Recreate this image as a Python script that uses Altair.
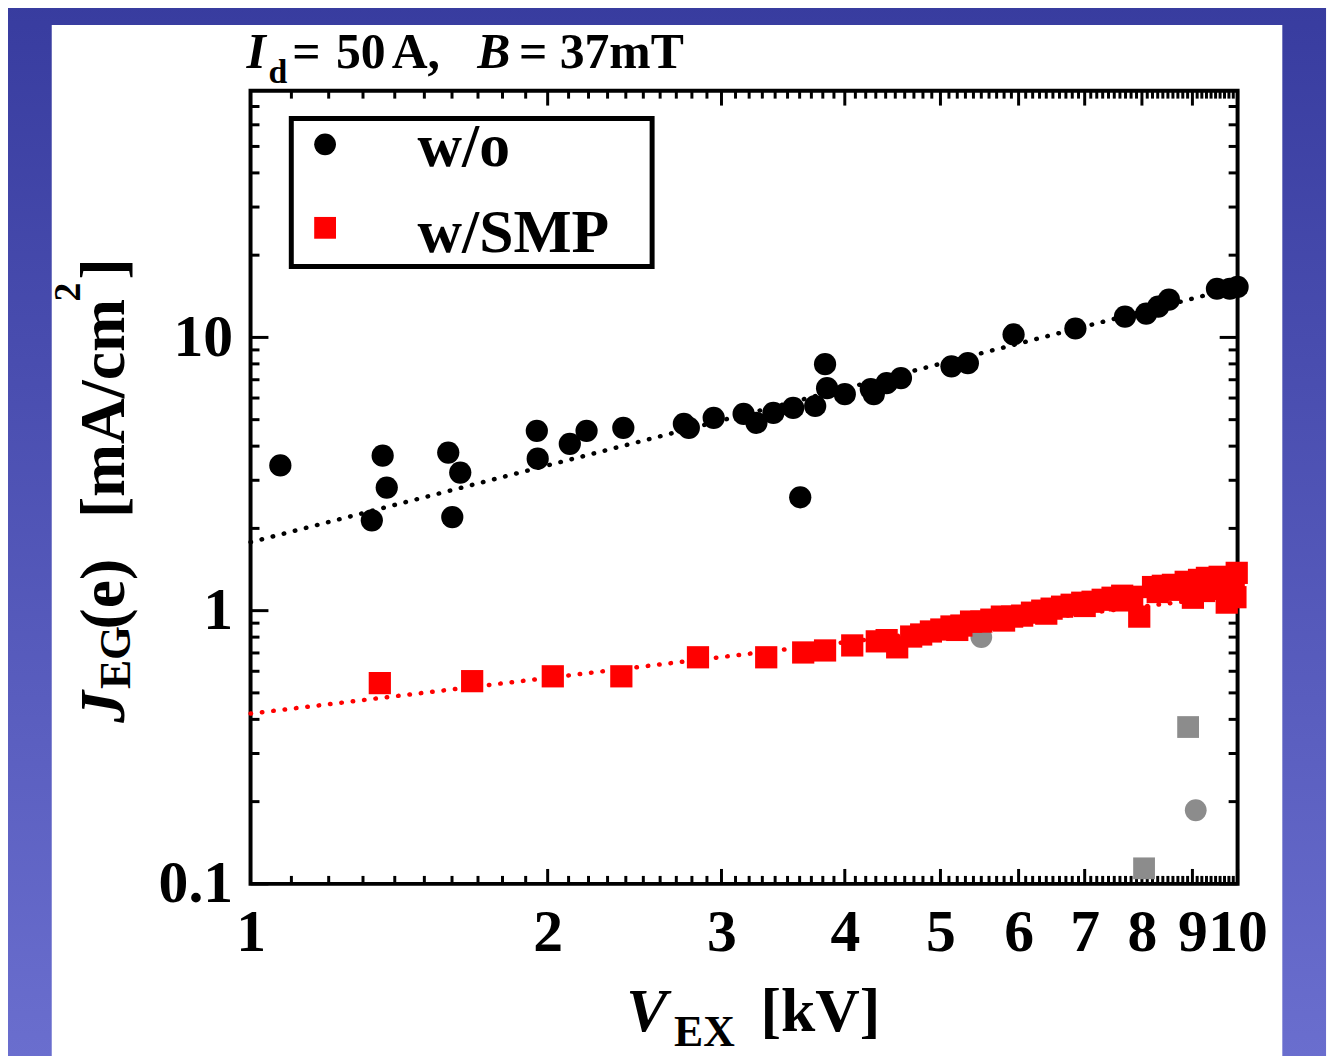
import altair as alt
import pandas as pd

# ---------------- data ----------------
wo_v = [1.072, 1.327, 1.361, 1.374, 1.586, 1.601, 1.631, 1.950, 1.954, 2.106,
        2.190, 2.386, 2.748, 2.780, 2.946, 3.159, 3.255, 3.386, 3.546, 3.605,
        3.733, 3.820, 3.838, 4.00, 4.25, 4.28, 4.41, 4.56, 5.13, 5.33,
        5.93, 6.85, 7.69, 8.08, 8.31, 8.52, 9.53, 9.82, 10.0]
wo_j = [3.40, 2.14, 3.69, 2.82, 3.79, 2.20, 3.20, 4.55, 3.60, 4.08,
        4.55, 4.67, 4.83, 4.67, 5.08, 5.25, 4.87, 5.29, 5.52, 2.60,
        5.61, 7.98, 6.52, 6.20, 6.47, 6.20, 6.80, 7.10, 7.84, 8.05,
        10.25, 10.78, 11.92, 12.23, 12.96, 13.75, 15.07, 15.07, 15.3]

smp_v = [1.352, 1.677, 2.024, 2.375, 2.84, 3.33, 3.63, 3.82, 4.07,
         4.31, 4.41, 4.52, 4.67, 4.78, 4.89, 5.01, 5.13, 5.25, 5.37, 5.50,
         5.63, 5.77, 5.91, 6.05, 6.19, 6.34, 6.48, 6.64, 6.79, 6.96, 7.13,
         7.30, 7.47, 7.64, 7.82, 7.95, 8.21, 8.40, 8.60, 8.72, 8.86, 9.01,
         9.14, 9.31, 9.44, 9.59, 9.75, 9.83, 9.91, 9.98,
         5.20, 5.80, 6.40, 7.00, 7.60, 8.30, 8.95, 9.25, 9.65, 9.95]
smp_j = [0.543, 0.552, 0.575, 0.575, 0.675, 0.675, 0.703, 0.715, 0.746,
         0.772, 0.780, 0.734, 0.804, 0.818, 0.839, 0.853, 0.875, 0.882, 0.912, 0.912,
         0.927, 0.951, 0.951, 0.959, 0.983, 1.000, 1.017, 1.034, 1.051, 1.069, 1.078,
         1.096, 1.115, 1.134, 1.124, 0.951, 1.220, 1.233, 1.243, 1.192, 1.275, 1.115,
         1.296, 1.318, 1.243, 1.330, 1.070, 1.285, 1.192, 1.375,
         0.850, 0.920, 0.975, 1.040, 1.090, 1.170, 1.200, 1.180, 1.210, 1.120]

gray_circle_v = [5.50, 9.07]
gray_circle_j = [0.80, 0.186]
gray_square_v = [8.04, 8.91]
gray_square_j = [0.114, 0.375]

fit_wo_v = [1, 10]
fit_wo_j = [1.78, 15.3]
fit_smp_v = [1, 10]
fit_smp_j = [0.42, 1.14]

x_labels = [1, 2, 3, 4, 5, 6, 7, 8, 9, 10]
y_labels = [0.1, 1, 10]
x_minor = [i / 10 for i in range(11, 100) if i % 10]
y_minor = [k * 10 ** n for n in (-1, 0, 1) for k in range(2, 10) if k * 10 ** n < 80]

# ---------------- layout ----------------
W, H = 993, 798
OX, OY = 252, 88          # page position of the plot area
FONT = "Liberation Serif"

xs = alt.Scale(type="log", domain=[1, 10], nice=False)
ys = alt.Scale(type="log", domain=[0.1, 80], nice=False)

xaxis = alt.Axis(values=x_labels, labelExpr="format(datum.value, '~g')",
                 ticks=False, tickSize=0, domain=False, grid=False, title=None,
                 labelFont=FONT, labelFontWeight="bold", labelFontSize=60,
                 labelColor="black", labelPadding=20, labelOverlap=False,
                 labelFlush=False, labelBaseline="top", zindex=1)
yaxis = alt.Axis(values=y_labels, labelExpr="format(datum.value, '~g')",
                 ticks=False, tickSize=0, domain=False, grid=False, title=None,
                 labelFont=FONT, labelFontWeight="bold", labelFontSize=60,
                 labelColor="black", labelPadding=18, labelOverlap=False,
                 labelFlush=False, labelBaseline="middle", zindex=1)


def X():
    return alt.X("V:Q", scale=xs, axis=xaxis)


def Y():
    return alt.Y("J:Q", scale=ys, axis=yaxis)


one = pd.DataFrame({"a": [0]})


def df(v, j):
    return pd.DataFrame({"V": v, "J": j})


gradient = alt.LinearGradient(
    gradient="linear",
    stops=[alt.GradientStop(color="#383c9f", offset=0),
           alt.GradientStop(color="#6a6ece", offset=1)],
    x1=0, x2=0, y1=0, y2=1)

bg = alt.Chart(one).mark_rect(fill=gradient).encode(
    x=alt.value(0 - OX), x2=alt.value(1334 - OX),
    y=alt.value(0 - OY), y2=alt.value(1060 - OY))
panel = alt.Chart(one).mark_rect(fill="white").encode(
    x=alt.value(52 - OX), x2=alt.value(1290 - OX),
    y=alt.value(22 - OY), y2=alt.value(1064 - OY))
frame = alt.Chart(one).mark_rect(fillOpacity=0, stroke="black", strokeWidth=4).encode(
    x=alt.value(0), x2=alt.value(W), y=alt.value(0), y2=alt.value(H))


def xticks(vals, length):
    d = pd.DataFrame({"V": vals})
    b = alt.Chart(d).mark_rule(color="black", strokeWidth=3).encode(
        x=X(), y=alt.value(H), y2=alt.value(H - length))
    t = alt.Chart(d).mark_rule(color="black", strokeWidth=3).encode(
        x=X(), y=alt.value(0), y2=alt.value(length))
    return [b, t]


def yticks(vals, length):
    d = pd.DataFrame({"J": vals})
    l = alt.Chart(d).mark_rule(color="black", strokeWidth=3).encode(
        y=Y(), x=alt.value(0), x2=alt.value(length))
    r = alt.Chart(d).mark_rule(color="black", strokeWidth=3).encode(
        y=Y(), x=alt.value(W), x2=alt.value(W - length))
    return [l, r]


ticks = (xticks(x_labels, 15) + xticks(x_minor, 8)
         + yticks(y_labels, 18) + yticks(y_minor, 9))

fit_wo = alt.Chart(df(fit_wo_v, fit_wo_j)).mark_line(
    color="black", strokeWidth=4.5, strokeDash=[0.5, 11], strokeCap="round").encode(x=X(), y=Y())
fit_smp = alt.Chart(df(fit_smp_v, fit_smp_j)).mark_line(
    color="red", strokeWidth=4.5, strokeDash=[0.5, 11], strokeCap="round").encode(x=X(), y=Y())

g_circ = alt.Chart(df(gray_circle_v, gray_circle_j)).mark_point(
    shape="circle", filled=True, size=480, color="#8c8c8c", opacity=1).encode(x=X(), y=Y())
g_sq = alt.Chart(df(gray_square_v, gray_square_j)).mark_point(
    shape="square", filled=True, size=480, color="#8c8c8c", opacity=1).encode(x=X(), y=Y())
pts_wo = alt.Chart(df(wo_v, wo_j)).mark_point(
    shape="circle", filled=True, size=500, color="black", opacity=1).encode(x=X(), y=Y())
pts_smp = alt.Chart(df(smp_v, smp_j)).mark_point(
    shape="square", filled=True, size=500, color="#ff0000", opacity=1).encode(x=X(), y=Y())

# legend box
leg_box = alt.Chart(one).mark_rect(fill="white", stroke="black", strokeWidth=5).encode(
    x=alt.value(293 - OX), x2=alt.value(656 - OX),
    y=alt.value(116 - OY), y2=alt.value(265 - OY))
leg_c = alt.Chart(one).mark_point(shape="circle", filled=True, size=480,
                                  color="black", opacity=1).encode(
    x=alt.value(327 - OX), y=alt.value(142 - OY))
leg_s = alt.Chart(one).mark_point(shape="square", filled=True, size=480,
                                  color="#ff0000", opacity=1).encode(
    x=alt.value(327 - OX), y=alt.value(226 - OY))


def txt(s, x, y, size, italic=False, angle=0):
    return alt.Chart(one).mark_text(
        text=s, font=FONT, fontWeight="bold",
        fontStyle="italic" if italic else "normal",
        fontSize=size, align="left", baseline="alphabetic",
        angle=angle, color="black").encode(
        x=alt.value(x - OX), y=alt.value(y - OY))


texts = [
    txt("w/o", 420, 164, 62),
    txt("w/SMP", 420, 250, 62),
    # title
    txt("I", 248, 65, 50, italic=True),
    txt("d", 270, 80, 34),
    txt("=", 294, 65, 50),
    txt("50", 338, 65, 50),
    txt("A,", 394, 65, 50),
    txt("B", 480, 65, 50, italic=True),
    txt("=", 522, 65, 50),
    txt("37mT", 563, 65, 50),
    # x title
    txt("V", 630, 1034, 62, italic=True),
    txt("EX", 678, 1049, 44),
    txt("[kV]", 765, 1034, 62),
    # y title (rotated)
    txt("J", 125, 724, 64, italic=True, angle=270),
    txt("EG", 131, 690, 44, angle=270),
    txt("(e)", 125, 630, 64, angle=270),
    txt("[mA/cm", 125, 518, 64, angle=270),
    txt("2", 80, 300, 38, angle=270),
    txt("]", 125, 278, 64, angle=270),
]

layers = ([bg, panel, frame] + ticks
          + [fit_wo, fit_smp, g_circ, g_sq, pts_wo, pts_smp,
             leg_box, leg_c, leg_s] + texts)

chart = alt.layer(*layers).properties(
    width=W, height=H,
    autosize=alt.AutoSizeParams(type="none"),
    padding={"left": OX - 8, "top": OY - 8, "right": 1334 - (OX - 8) - W,
             "bottom": 1048 - (OY - 8) - H},
).configure_view(strokeWidth=0)

chart.save("out.html", embed_options={"renderer": "svg", "actions": False})
